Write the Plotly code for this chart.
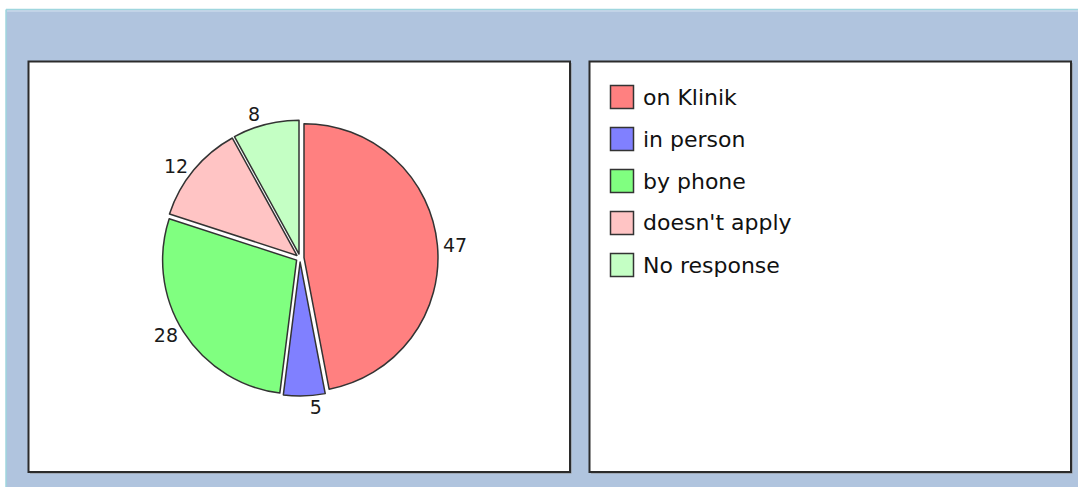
import plotly.graph_objects as go

W, H = 1078, 487

labels = ["on Klinik", "in person", "by phone", "doesn't apply", "No response"]
values = [47, 5, 28, 12, 8]
colors = ["#FF8080", "#8080FF", "#80FF80", "#FFC4C4", "#C4FFC4"]

def px(x):
    return x / W

def py(y):
    return 1 - y / H

fig = go.Figure()

fig.add_trace(go.Pie(
    labels=labels,
    values=values,
    sort=False,
    direction="clockwise",
    rotation=0,
    pull=[0.03] * len(values),
    marker=dict(colors=colors, line=dict(color="#333333", width=1.5)),
    textinfo="value",
    textposition="outside",
    outsidetextfont=dict(family="DejaVu Sans", size=19, color="#1A1A1A"),
    domain=dict(x=[px(162), px(438)], y=[py(396), py(120)]),
    showlegend=False,
    hoverinfo="label+value",
))

shapes = []
# steel-blue frame background
shapes.append(dict(type="rect", xref="paper", yref="paper",
                   x0=px(6), x1=px(W), y0=py(H), y1=py(9.5),
                   fillcolor="#B0C4DE", line=dict(width=0), layer="below"))
shapes.append(dict(type="line", xref="paper", yref="paper",
                   x0=px(6), x1=px(W), y0=py(9.5), y1=py(9.5),
                   line=dict(color="#9FD6DE", width=1.5), layer="below"))
shapes.append(dict(type="line", xref="paper", yref="paper",
                   x0=px(6), x1=px(6), y0=py(H), y1=py(9.5),
                   line=dict(color="#9FD6DE", width=1.5), layer="below"))
shapes.append(dict(type="line", xref="paper", yref="paper",
                   x0=px(7), x1=px(W), y0=py(11), y1=py(11),
                   line=dict(color="#C8D8EA", width=1.5), layer="below"))

# panels (shadow + white box with dark border)
for (x0, x1) in [(28.5, 570), (589.5, 1071)]:
    shapes.append(dict(type="rect", xref="paper", yref="paper",
                       x0=px(x0 + 1.5), x1=px(x1 + 1.5), y0=py(473.5), y1=py(63),
                       fillcolor="#8C8C8C", line=dict(width=0), layer="below"))
    shapes.append(dict(type="rect", xref="paper", yref="paper",
                       x0=px(x0), x1=px(x1), y0=py(472), y1=py(61.5),
                       fillcolor="white", line=dict(color="#2B2B2B", width=2),
                       layer="below"))

# legend entries
annotations = []
for i, (lab, col) in enumerate(zip(labels, colors)):
    cy = 97 + 42 * i
    shapes.append(dict(type="rect", xref="paper", yref="paper",
                       x0=px(610.5), x1=px(633.5), y0=py(cy + 11.5), y1=py(cy - 11.5),
                       fillcolor=col, line=dict(color="#333333", width=1.5),
                       layer="above"))
    annotations.append(dict(xref="paper", yref="paper", x=px(641), y=py(cy),
                            xanchor="left", yanchor="middle", text=lab,
                            showarrow=False,
                            font=dict(family="DejaVu Sans", size=22, color="#111111")))

fig.update_layout(
    width=W, height=H,
    margin=dict(l=0, r=0, t=0, b=0),
    paper_bgcolor="white",
    plot_bgcolor="white",
    shapes=shapes,
    annotations=annotations,
    showlegend=False,
)

fig.write_html("out.html",
               config={"displayModeBar": False},
               post_script="document.body.style.margin='0';document.body.style.padding='0';")
